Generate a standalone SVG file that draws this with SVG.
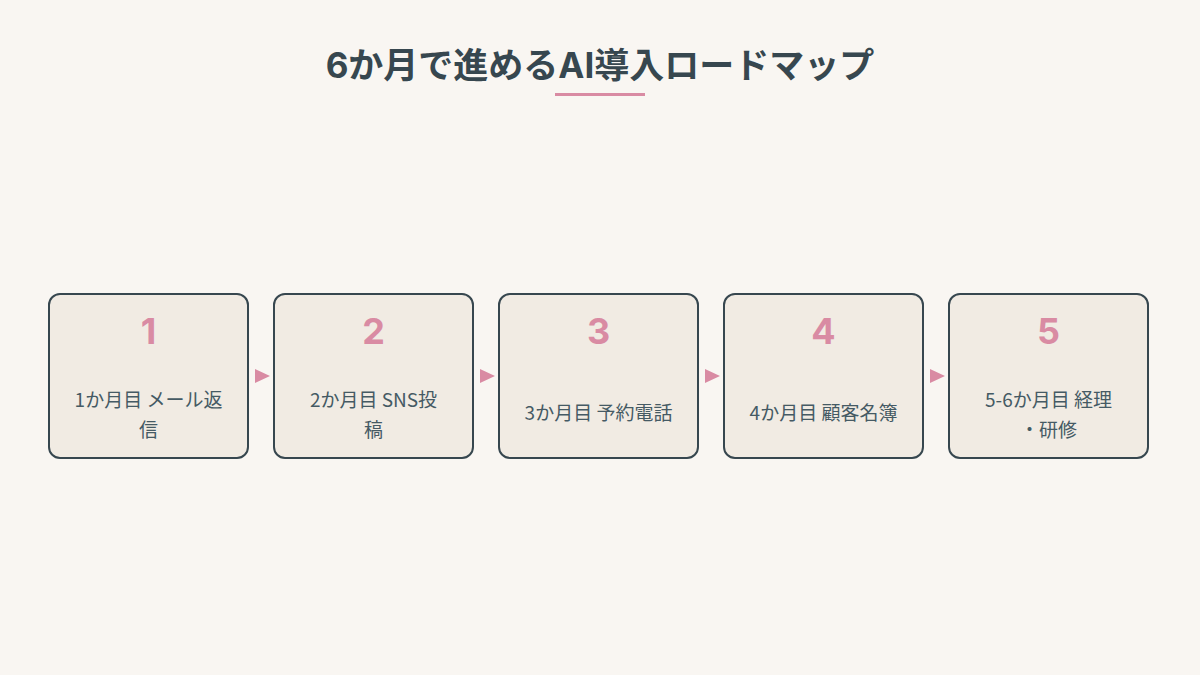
<svg xmlns="http://www.w3.org/2000/svg" width="1200" height="675" viewBox="0 0 1200 675">
<style>
.box{fill:#f1ebe3;stroke:#37474f;stroke-width:2}
.num{font-family:Inter,"Liberation Sans","Noto Sans CJK JP",sans-serif;font-weight:700;font-size:36px;fill:#d98ba3;text-anchor:middle}
.lbl{font-family:"Noto Sans CJK JP",sans-serif;font-size:19px;fill:#455a64;text-anchor:middle}
.title{font-family:Inter,"Noto Sans CJK JP",sans-serif;font-weight:700;font-size:35px;fill:#37474f;text-anchor:middle}
.arr{fill:#d98ba3}
</style>
<rect width="1200" height="675" fill="#f9f6f2"/>
<text class="title" x="600" y="78">6か月で進めるAI導入ロードマップ</text>
<rect x="555" y="93" width="90" height="3" fill="#d98ba3"/>
<g id="connectors">
<polygon class="arr" points="255,369 270,376 255,383"/>
<polygon class="arr" points="480,369 495,376 480,383"/>
<polygon class="arr" points="705,369 720,376 705,383"/>
<polygon class="arr" points="930,369 945,376 930,383"/>
</g>
<g id="step1"><rect class="box" x="49" y="294" width="199" height="164" rx="11"/><text class="num" x="148.5" y="344">1</text><text class="lbl" x="148.5" y="407">1か月目 メール返</text><text class="lbl" x="148.5" y="437">信</text></g>
<g id="step2"><rect class="box" x="274" y="294" width="199" height="164" rx="11"/><text class="num" x="373.5" y="344">2</text><text class="lbl" x="373.5" y="407">2か月目 SNS投</text><text class="lbl" x="373.5" y="437">稿</text></g>
<g id="step3"><rect class="box" x="499" y="294" width="199" height="164" rx="11"/><text class="num" x="598.5" y="344">3</text><text class="lbl" x="598.5" y="420">3か月目 予約電話</text></g>
<g id="step4"><rect class="box" x="724" y="294" width="199" height="164" rx="11"/><text class="num" x="823.5" y="344">4</text><text class="lbl" x="823.5" y="420">4か月目 顧客名簿</text></g>
<g id="step5"><rect class="box" x="949" y="294" width="199" height="164" rx="11"/><text class="num" x="1048.5" y="344">5</text><text class="lbl" x="1048.5" y="407">5-6か月目 経理</text><text class="lbl" x="1048.5" y="437">・研修</text></g>
</svg>
